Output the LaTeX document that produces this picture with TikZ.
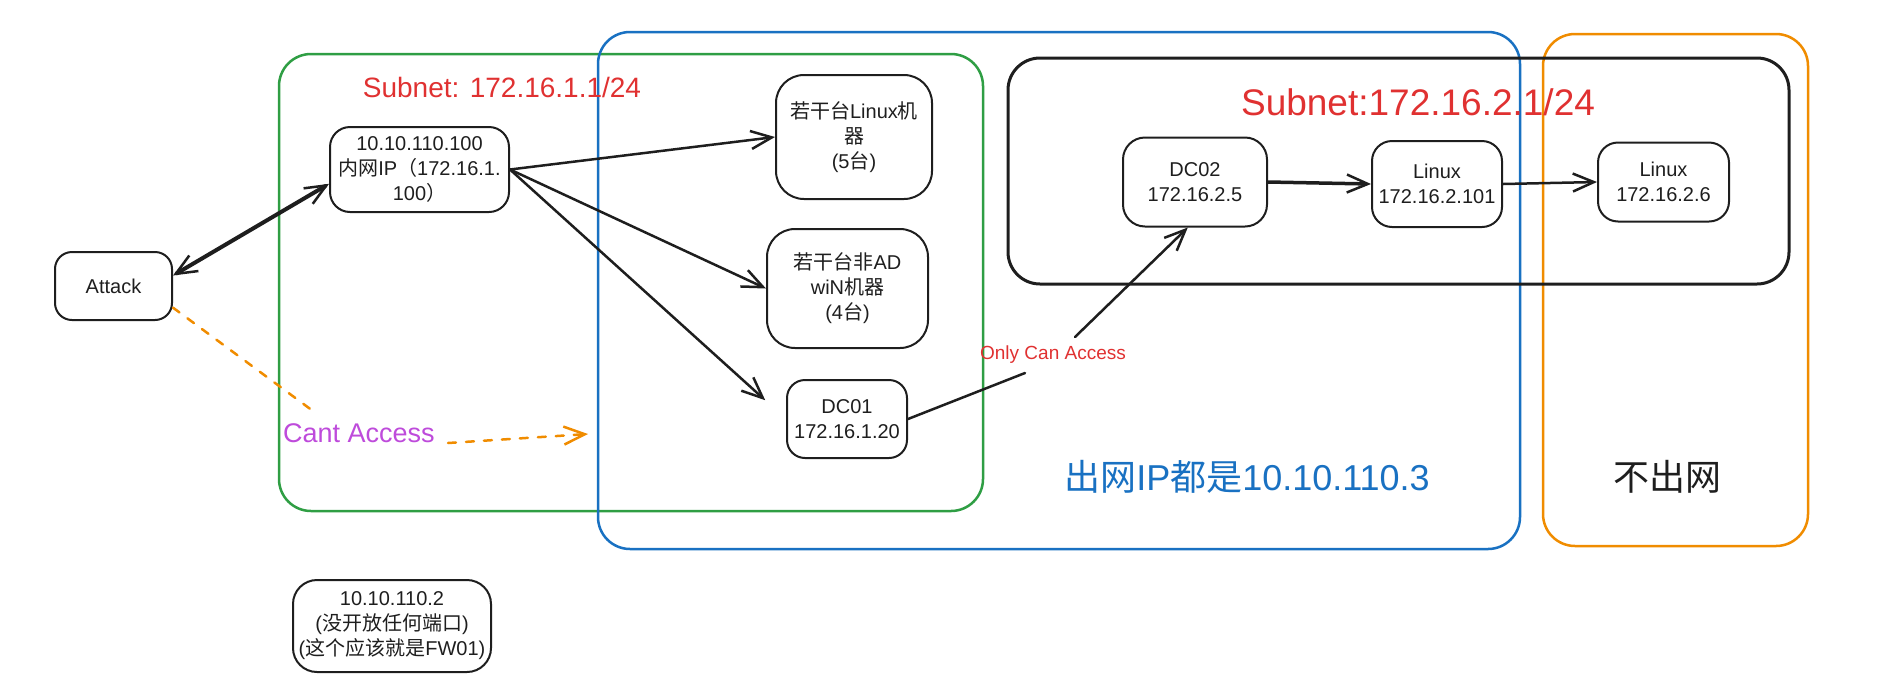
\documentclass[tikz,border=0pt]{standalone}
\usepackage{fontspec}
\setmainfont{Liberation Sans}
\newfontfamily\cjk{Noto Sans CJK SC}
\usetikzlibrary{arrows.meta}
\definecolor{ink}{HTML}{1E1E1E}
\definecolor{exgreen}{HTML}{2F9E44}
\definecolor{exblue}{HTML}{1971C2}
\definecolor{exorange}{HTML}{F08C00}
\definecolor{exred}{HTML}{E03131}
\definecolor{exviolet}{HTML}{BE4BDB}
\tikzset{
  nodebox/.style={draw=ink, line width=2pt, rounded corners=#1, align=center,
    inner sep=0pt, text=ink, font=\fontsize{20}{25}\selectfont},
  nodebox/.default=18pt,
  barb/.tip={Straight Barb[length=21pt,width=18pt,line width=2.5pt]},
  arr/.style={draw=ink, line width=2.5pt, line cap=round, -barb},
  plainline/.style={draw=ink, line width=2.5pt, line cap=round},
  region/.style={line width=2.5pt, rounded corners=32pt},
  odash/.style={draw=exorange, line width=2.5pt, line cap=round, dash pattern=on 8pt off 10pt},
}
\begin{document}
\begin{tikzpicture}[x=1pt,y=-1pt]
\useasboundingbox (0,0) rectangle (1887,697);

% regions
\draw[region, exgreen] (279,54) rectangle (983,511);
\draw[region, exblue] (598,32) rectangle (1520,549);
\draw[region, exorange] (1543,34) rectangle (1808,546);
\draw[region, ink, line width=3pt] (1008,58) rectangle (1789,284);

% region labels
\node[text=exred, font=\fontsize{28}{34}\selectfont] (sub1) at (502,87) {Subnet: 172.16.1.1/24};
\node[text=exred, font=\fontsize{37}{44}\selectfont] (sub2) at (1418,102) {Subnet:172.16.2.1/24};
\node[text=exblue, font=\fontsize{36}{44}\selectfont] (outip) at (1247,477) {{\cjk 出网}IP{\cjk 都是}10.10.110.3};
\node[text=ink, font=\fontsize{36}{44}\selectfont] (noout) at (1667,477) {{\cjk 不出网}};

% nodes
\node[nodebox=17pt, minimum width=117pt, minimum height=68pt] (attack) at (113.5,286) {Attack};
\node[nodebox=20pt, minimum width=179pt, minimum height=85pt] (n100) at (419.5,169.5)
  {10.10.110.100\\{\cjk 内网}IP{\cjk （}172.16.1.\\100{\cjk ）}};
\node[nodebox=28pt, minimum width=156pt, minimum height=124pt] (lin1) at (854,137)
  {{\cjk 若干台}Linux{\cjk 机}\\{\cjk 器}\\(5{\cjk 台})};
\node[nodebox=28pt, minimum width=161pt, minimum height=119pt] (nonad) at (847.5,288.5)
  {{\cjk 若干台非}AD\\wiN{\cjk 机器}\\(4{\cjk 台})};
\node[nodebox=18pt, minimum width=120pt, minimum height=78pt] (dc01) at (847,419)
  {DC01\\172.16.1.20};
\node[nodebox=22pt, minimum width=144pt, minimum height=89pt] (dc02) at (1195,182)
  {DC02\\172.16.2.5};
\node[nodebox=20pt, minimum width=130pt, minimum height=86pt] (lin101) at (1437,184)
  {Linux\\172.16.2.101};
\node[nodebox=20pt, minimum width=131pt, minimum height=79pt] (lin6) at (1663.5,182)
  {Linux\\172.16.2.6};
\node[nodebox=24pt, minimum width=198pt, minimum height=92pt] (fw) at (392,626)
  {10.10.110.2\\({\cjk 没开放任何端口})\\({\cjk 这个应该就是}FW01)};

% connectors
\draw[plainline, line width=4pt, barb-barb] (attack.10) -- (n100.189);
\draw[arr] (n100.east) -- (lin1.west);
\draw[arr] (n100.east) -- (nonad.west);
\draw[arr, shorten >=28pt] (n100.east) -- (dc01.west);

\node[text=exred, font=\fontsize{19}{24}\selectfont] (oca) at (1053,355) {Only Can Access};
\coordinate (oc1) at (1025,373);
\coordinate (oc2) at (1075,337);
\draw[plainline] (dc01.east) -- (oc1);
\draw[arr] (oc2) -- (dc02.261);

\draw[arr, line width=3.5pt] (dc02.east) -- (lin101.west);
\draw[arr] (lin101.east) -- (lin6.west);

\node[text=exviolet, font=\fontsize{27}{32}\selectfont] (cant) at (359,433) {Cant Access};
\coordinate (ca1) at (313,411);
\coordinate (ca2) at (448,443);
\coordinate (caend) at (588,434);
\draw[odash] (attack.-20) -- (ca1);
\draw[odash, -{Straight Barb[length=21pt,width=18pt,line width=2.5pt]}] (ca2) -- (caend);
\end{tikzpicture}
\end{document}
